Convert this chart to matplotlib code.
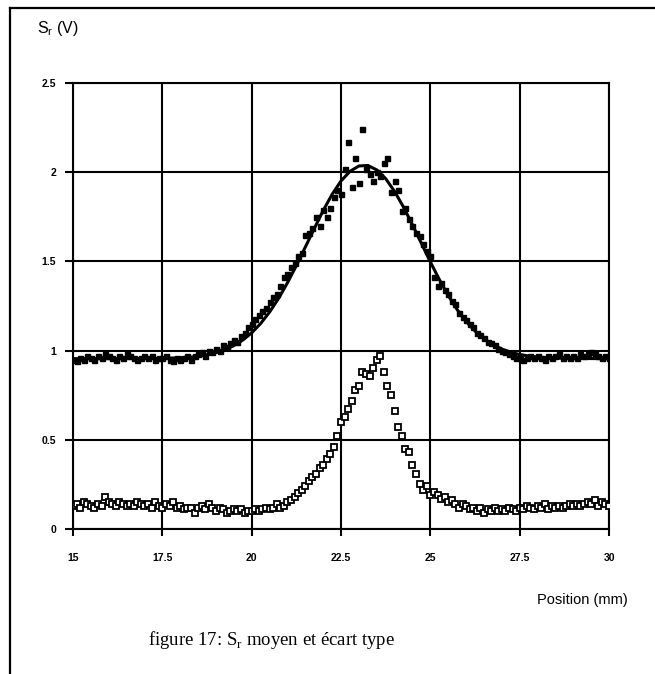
import numpy as np
import matplotlib.pyplot as plt
from matplotlib.lines import Line2D

# positions (mm), 0.1 mm step
pos = np.round(np.arange(150, 301) / 10.0, 1)

# mean signal S_r (filled squares)
sr_mean = [
    0.95, 0.94, 0.96, 0.95, 0.97, 0.96, 0.95, 0.97, 0.96, 0.98,
    0.97, 0.96, 0.95, 0.97, 0.96, 0.98, 0.97, 0.96, 0.95, 0.96,
    0.97, 0.96, 0.97, 0.95, 0.96, 0.96, 0.97, 0.95, 0.94, 0.96,
    0.95, 0.96, 0.97, 0.95, 0.97, 0.98, 0.99, 0.97, 1.00, 0.99,
    1.01, 1.00, 1.03, 1.02, 1.04, 1.06, 1.05, 1.08, 1.10, 1.13,
    1.15, 1.18, 1.20, 1.22, 1.24, 1.27, 1.30, 1.32, 1.36, 1.41,
    1.43, 1.47, 1.49, 1.53, 1.55, 1.65, 1.66, 1.69, 1.75, 1.70,
    1.79, 1.75, 1.80, 1.86, 1.90, 1.88, 2.02, 2.17, 1.92, 2.08,
    1.94, 2.24, 2.02, 1.99, 1.95, 2.00, 1.98, 2.05, 2.08, 1.89,
    1.95, 1.90, 1.78, 1.80, 1.74, 1.70, 1.66, 1.64, 1.60, 1.56,
    1.53, 1.41, 1.36, 1.38, 1.34, 1.32, 1.28, 1.26, 1.21, 1.19,
    1.17, 1.15, 1.13, 1.10, 1.09, 1.07, 1.05, 1.04, 1.03, 1.01,
    1.00, 0.99, 0.98, 0.97, 0.96, 0.97, 0.95, 0.96, 0.97, 0.96,
    0.97, 0.96, 0.95, 0.97, 0.96, 0.97, 0.98, 0.96, 0.97, 0.96,
    0.97, 0.96, 0.98, 0.97, 0.98, 0.99, 0.98, 0.97, 0.96, 0.97,
    0.96,
]

# standard deviation (open squares)
sr_std = [
    0.13, 0.14, 0.12, 0.15, 0.14, 0.13, 0.12, 0.14, 0.13, 0.18,
    0.15, 0.14, 0.13, 0.15, 0.14, 0.13, 0.14, 0.13, 0.15, 0.14,
    0.13, 0.14, 0.12, 0.15, 0.13, 0.12, 0.14, 0.13, 0.15, 0.12,
    0.13, 0.11, 0.12, 0.12, 0.09, 0.12, 0.13, 0.11, 0.14, 0.12,
    0.10, 0.12, 0.11, 0.09, 0.10, 0.11, 0.10, 0.11, 0.09, 0.10,
    0.10, 0.11, 0.10, 0.11, 0.12, 0.11, 0.12, 0.14, 0.12, 0.13,
    0.15, 0.16, 0.18, 0.20, 0.22, 0.24, 0.27, 0.29, 0.31, 0.34,
    0.36, 0.39, 0.42, 0.46, 0.52, 0.60, 0.63, 0.67, 0.72, 0.78,
    0.80, 0.88, 0.87, 0.86, 0.90, 0.95, 0.97, 0.88, 0.80, 0.75,
    0.66, 0.57, 0.52, 0.45, 0.43, 0.36, 0.31, 0.25, 0.22, 0.24,
    0.19, 0.21, 0.19, 0.17, 0.18, 0.15, 0.16, 0.14, 0.12, 0.14,
    0.13, 0.11, 0.12, 0.10, 0.12, 0.09, 0.11, 0.10, 0.12, 0.10,
    0.11, 0.10, 0.12, 0.11, 0.10, 0.12, 0.11, 0.13, 0.12, 0.11,
    0.13, 0.12, 0.14, 0.11, 0.13, 0.12, 0.13, 0.12, 0.13, 0.14,
    0.13, 0.14, 0.13, 0.14, 0.15, 0.14, 0.16, 0.13, 0.15, 0.14,
    0.13,
]

# fitted curve, read at 0.25 mm steps
fit_x = [15, 16, 17, 17.5, 18, 18.25, 18.5, 18.75, 19, 19.25, 19.5, 19.75,
         20, 20.25, 20.5, 20.75, 21, 21.25, 21.5, 21.75, 22, 22.25, 22.5, 22.75,
         23, 23.25, 23.5, 23.75, 24, 24.25, 24.5, 24.75, 25, 25.25, 25.5, 25.75,
         26, 26.25, 26.5, 26.75, 27, 27.25, 27.5, 27.75, 28, 28.5, 29, 30]
fit_y = [0.955, 0.955, 0.956, 0.957, 0.960, 0.963, 0.968, 0.976, 0.988, 1.005, 1.028, 1.059,
         1.100, 1.152, 1.216, 1.292, 1.380, 1.477, 1.580, 1.684, 1.785, 1.876, 1.951, 2.005,
         2.035, 2.038, 2.013, 1.964, 1.892, 1.804, 1.705, 1.601, 1.497, 1.399, 1.309, 1.230,
         1.164, 1.110, 1.066, 1.033, 1.009, 0.991, 0.978, 0.970, 0.964, 0.958, 0.956, 0.955]

xticks = [15, 17.5, 20, 22.5, 25, 27.5, 30]
xlabels = ["15", "17.5", "20", "22.5", "25", "27.5", "30"]
yticks = [0, 0.5, 1, 1.5, 2, 2.5]
ylabels = ["0", "0.5", "1", "1.5", "2", "2.5"]

fig = plt.figure(figsize=(6.55, 6.74), dpi=100)
ax = fig.add_axes([0.1115, 0.2151, 0.8183, 0.6617])

ax.plot(pos, sr_mean, ls="none", marker="s", ms=3.6, color="black", zorder=3)
ax.plot(fit_x, fit_y, color="black", lw=2.2, zorder=4)
ax.plot(pos, sr_std, ls="none", marker="s", ms=5, mfc="white", mec="black",
        mew=1.3, zorder=3)

ax.set_xlim(15, 30)
ax.set_ylim(0, 2.5)
ax.set_xticks(xticks)
ax.set_xticklabels(xlabels)
ax.set_yticks(yticks)
ax.set_yticklabels(ylabels)
ax.grid(True, color="black", lw=1.5)
ax.set_axisbelow(True)
for s in ax.spines.values():
    s.set_linewidth(1.5)
ax.tick_params(axis="x", direction="out", length=5, width=1.5, pad=12,
               labelsize=7.5)
ax.tick_params(axis="y", direction="out", length=6, width=1.5, pad=6,
               labelsize=7.5)
for lab in ax.get_xticklabels() + ax.get_yticklabels():
    lab.set_fontweight("bold")
    lab.set_family("Liberation Sans")

fig.text(37 / 655, 1 - 28 / 674, r"S$_\mathregular{r}$ (V)", fontsize=11.5,
         family="Liberation Sans", va="center", ha="left")
fig.text(628 / 655, 1 - 600 / 674, "Position (mm)", fontsize=10.5,
         family="Liberation Sans", va="center", ha="right")
fig.text(272 / 655, 1 - 640 / 674, r"figure 17: S$_\mathregular{r}$ moyen et écart type",
         fontsize=13.5, family="Liberation Serif", va="center", ha="center")

# page frame (left and top edges)
fig.add_artist(Line2D([10 / 655, 10 / 655], [0, 1 - 8 / 674],
                      transform=fig.transFigure, color="black", lw=1.6))
fig.add_artist(Line2D([10 / 655, 1], [1 - 8 / 674, 1 - 8 / 674],
                      transform=fig.transFigure, color="black", lw=1.6))

fig.savefig("out.png", dpi=100)
